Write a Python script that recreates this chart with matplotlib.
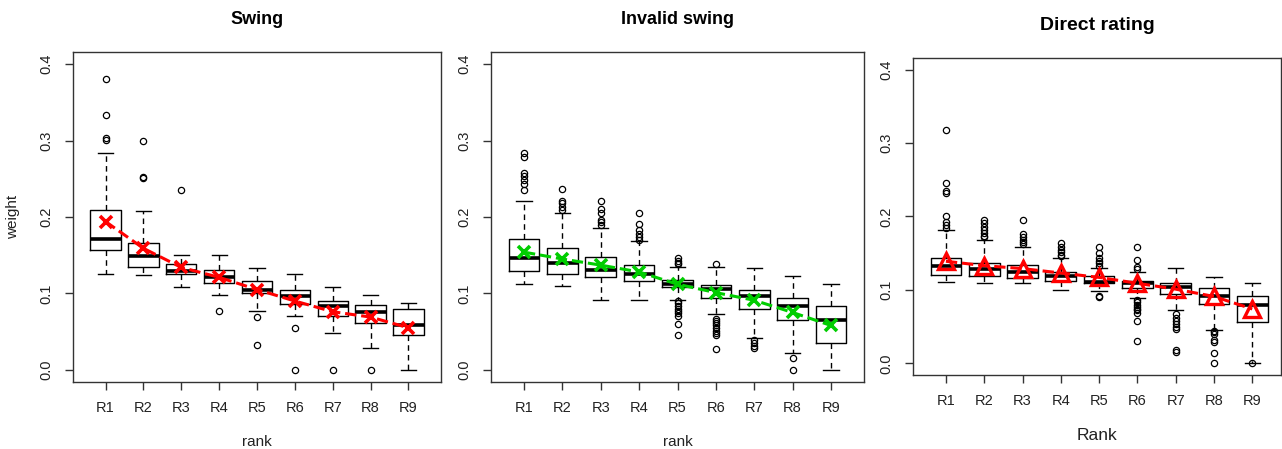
import numpy as np
import matplotlib.pyplot as plt

plt.rcParams['font.family'] = ['Liberation Sans', 'DejaVu Sans']

ranks = ['R1', 'R2', 'R3', 'R4', 'R5', 'R6', 'R7', 'R8', 'R9']

# Swing
sw_lo = [0.125, 0.124, 0.109, 0.098, 0.077, 0.070, 0.048, 0.028, 0.000]
sw_q1 = [0.157, 0.135, 0.125, 0.114, 0.100, 0.086, 0.070, 0.061, 0.045]
sw_med = [0.171, 0.149, 0.129, 0.121, 0.105, 0.096, 0.084, 0.076, 0.059]
sw_q3 = [0.209, 0.166, 0.139, 0.130, 0.116, 0.105, 0.090, 0.085, 0.079]
sw_hi = [0.284, 0.208, 0.150, 0.150, 0.133, 0.125, 0.108, 0.098, 0.087]
sw_fliers = [[0.381, 0.334, 0.304, 0.301], [0.300, 0.252, 0.251], [0.236], [0.077],
             [0.069, 0.033], [0.055, 0.0], [0.0], [0.0], []]
sw_mean = [0.194, 0.159, 0.134, 0.121, 0.105, 0.090, 0.076, 0.069, 0.055]

# Invalid swing
inv_lo = [0.112, 0.110, 0.091, 0.091, 0.092, 0.073, 0.042, 0.022, 0.000]
inv_q1 = [0.129, 0.126, 0.122, 0.116, 0.108, 0.094, 0.079, 0.065, 0.035]
inv_med = [0.146, 0.140, 0.131, 0.125, 0.112, 0.106, 0.097, 0.083, 0.065]
inv_q3 = [0.171, 0.159, 0.148, 0.137, 0.118, 0.111, 0.105, 0.094, 0.084]
inv_hi = [0.221, 0.205, 0.186, 0.168, 0.135, 0.134, 0.133, 0.123, 0.112]
inv_fliers = [[0.284, 0.279, 0.258, 0.254, 0.249, 0.243, 0.236],
              [0.237, 0.221, 0.218, 0.213, 0.209],
              [0.221, 0.210, 0.205, 0.196, 0.193, 0.190],
              [0.205, 0.191, 0.183, 0.178, 0.174, 0.170],
              [0.146, 0.143, 0.140, 0.139, 0.090, 0.087, 0.083, 0.080, 0.077, 0.074, 0.071, 0.060, 0.045],
              [0.139, 0.067, 0.064, 0.061, 0.058, 0.055, 0.051, 0.048, 0.045, 0.027],
              [0.039, 0.035, 0.031, 0.028],
              [0.016, 0.0],
              []]
inv_mean = [0.154, 0.145, 0.137, 0.128, 0.112, 0.101, 0.091, 0.075, 0.058]

# Direct rating
dr_lo = [0.111, 0.109, 0.109, 0.100, 0.098, 0.089, 0.072, 0.046, 0.001]
dr_q1 = [0.120, 0.119, 0.116, 0.112, 0.109, 0.103, 0.094, 0.081, 0.056]
dr_med = [0.132, 0.128, 0.124, 0.119, 0.111, 0.109, 0.104, 0.092, 0.079]
dr_q3 = [0.144, 0.137, 0.134, 0.125, 0.119, 0.112, 0.109, 0.103, 0.092]
dr_hi = [0.181, 0.168, 0.159, 0.143, 0.130, 0.125, 0.130, 0.117, 0.110]
dr_fliers = [[0.318, 0.245, 0.235, 0.232, 0.201, 0.192, 0.188, 0.184],
             [0.195, 0.191, 0.186, 0.181, 0.177, 0.173, 0.172],
             [0.195, 0.176, 0.172, 0.168, 0.165, 0.162],
             [0.164, 0.159, 0.155, 0.152, 0.148, 0.146],
             [0.158, 0.150, 0.144, 0.140, 0.136, 0.133, 0.092, 0.090],
             [0.158, 0.141, 0.131, 0.128, 0.086, 0.083, 0.080, 0.077, 0.074, 0.072, 0.068, 0.057, 0.031],
             [0.067, 0.062, 0.058, 0.054, 0.049, 0.047, 0.018, 0.016],
             [0.044, 0.042, 0.040, 0.032, 0.029, 0.014, 0.0],
             [0.0]]
dr_mean = [0.139, 0.133, 0.129, 0.123, 0.117, 0.109, 0.101, 0.091, 0.074]


def make_stats(lo, q1, med, q3, hi, fliers):
    stats = []
    for i in range(len(med)):
        stats.append(dict(whislo=lo[i], q1=q1[i], med=med[i], q3=q3[i],
                          whishi=hi[i], fliers=np.array(fliers[i])))
    return stats


def draw_panel(ax, stats, means, color, marker, title, xlab, tsize=13):
    pos = np.arange(1, len(ranks) + 1)
    ax.bxp(stats, positions=pos, widths=0.8, capwidths=0.4, showfliers=True,
           boxprops=dict(color='black', linewidth=1),
           whiskerprops=dict(color='black', linewidth=1, linestyle=(0, (4, 3))),
           capprops=dict(color='black', linewidth=1),
           medianprops=dict(color='black', linewidth=2.6),
           flierprops=dict(marker='o', markersize=4.5, markerfacecolor='none',
                           markeredgecolor='black', markeredgewidth=0.9))
    if marker == 'x':
        ax.plot(pos, means, color=color, linestyle='--', linewidth=2.2,
                marker='x', markersize=9, markeredgewidth=2.6, zorder=5)
    else:
        ax.plot(pos, means, color=color, linestyle='--', linewidth=2.2,
                marker='^', markersize=11, markerfacecolor='none',
                markeredgewidth=2.4, zorder=5)
    ax.set_ylim(-0.016, 0.416)
    ax.set_yticks([0.0, 0.1, 0.2, 0.3, 0.4])
    ax.set_yticklabels(['0.0', '0.1', '0.2', '0.3', '0.4'])
    ax.set_xticks(pos)
    ax.set_xticklabels(ranks)
    ax.tick_params(axis='both', length=5.8, width=1, labelsize=10.5, pad=8,
                   color='#333333', labelcolor='#222222')
    ax.tick_params(axis='y', labelrotation=90)
    for lbl in ax.get_yticklabels():
        lbl.set_va('center')
    for sp in ax.spines.values():
        sp.set_linewidth(1)
        sp.set_color('#333333')
    ax.set_title(title, fontsize=tsize, fontweight='bold', pad=20)
    ax.set_xlabel(xlab, fontsize=11, labelpad=14, color='#222222')


fig = plt.figure(figsize=(12.82, 4.49), dpi=100)

ax1 = fig.add_axes([73 / 1282, 1 - 382 / 449, 368 / 1282, 330 / 449])
draw_panel(ax1, make_stats(sw_lo, sw_q1, sw_med, sw_q3, sw_hi, sw_fliers),
           sw_mean, 'red', 'x', 'Swing', 'rank')
ax1.set_xlim(0.14, 9.86)
ax1.set_ylabel('weight', fontsize=11, labelpad=14, color='#222222')

ax2 = fig.add_axes([491 / 1282, 1 - 382 / 449, 373 / 1282, 330 / 449])
draw_panel(ax2, make_stats(inv_lo, inv_q1, inv_med, inv_q3, inv_hi, inv_fliers),
           inv_mean, '#00CD00', 'x', 'Invalid swing', 'rank')
ax2.set_xlim(0.14, 9.86)

ax3 = fig.add_axes([913 / 1282, 1 - 375 / 449, 368 / 1282, 317 / 449])
draw_panel(ax3, make_stats(dr_lo, dr_q1, dr_med, dr_q3, dr_hi, dr_fliers),
           dr_mean, 'red', '^', 'Direct rating', 'Rank', tsize=14)
ax3.set_xlim(0.14, 9.75)
ax3.xaxis.label.set_fontsize(12.5)

fig.savefig('out.png', dpi=100)
